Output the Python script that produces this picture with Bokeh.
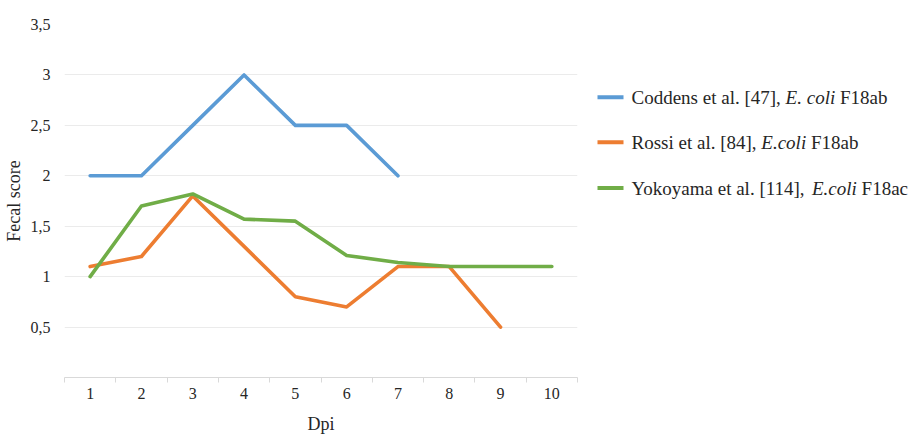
from bokeh.plotting import figure
from bokeh.layouts import row
from bokeh.models import FixedTicker, Range1d
from bokeh.core.properties import value
from bokeh.embed import file_html
from bokeh.resources import INLINE

# ---------------- data ----------------
dpi = [1, 2, 3, 4, 5, 6, 7, 8, 9, 10]
coddens = [2.0, 2.0, 2.5, 3.0, 2.5, 2.5, 2.0]
rossi = [1.1, 1.2, 1.8, 1.3, 0.8, 0.7, 1.1, 1.1, 0.5]
yokoyama = [1.0, 1.7, 1.82, 1.57, 1.55, 1.21, 1.14, 1.1, 1.1, 1.1]
y_ticks = [0.5, 1.0, 1.5, 2.0, 2.5, 3.0, 3.5]
y_tick_labels = ["0,5", "1", "1,5", "2", "2,5", "3", "3,5"]
series_colors = ["#5b9bd5", "#ed7d31", "#70ad47"]
# legend entries: (regular part, italic part, regular part)
legend_entries = [
    ("Coddens et al. [47], ", "E. coli", " F18ab"),
    ("Rossi et al. [84], ", "E.coli", " F18ab"),
    ("Yokoyama et al. [114], ", "E.coli", " F18ac"),
]

FONT = "serif"
TEXT_COLOR = "#262626"
TOP, BOTTOM_Y, H = 24, 378, 436

# ---------------- main chart ----------------
p = figure(width=582, height=H, output_backend="svg", toolbar_location=None,
           x_range=Range1d(0.5, 10.5), y_range=Range1d(0, 3.5),
           min_border_left=60, min_border_right=5, min_border_top=TOP,
           min_border_bottom=H - BOTTOM_Y)
p.outline_line_color = None
p.background_fill_color = "white"
p.border_fill_color = "white"

series = [dpi[:len(coddens)], dpi[:len(rossi)], dpi[:len(yokoyama)]]
values = [coddens, rossi, yokoyama]
for xs, ys, c in zip(series, values, series_colors):
    p.line(xs, ys, line_color=c, line_width=3.6, line_join="round", line_cap="round")

# x axis
p.xaxis.ticker = FixedTicker(ticks=dpi, minor_ticks=[d - 0.5 for d in dpi] + [dpi[-1] + 0.5])
p.xaxis.axis_line_color = "#d9d9d9"
p.xaxis.major_tick_line_color = None
p.xaxis.minor_tick_line_color = "#d9d9d9"
p.xaxis.minor_tick_in = 0
p.xaxis.minor_tick_out = 5
p.xaxis.major_label_text_font = FONT
p.xaxis.major_label_text_font_size = "16px"
p.xaxis.major_label_text_color = TEXT_COLOR
p.xaxis.major_label_standoff = 4
p.xaxis.axis_label = "Dpi"
p.xaxis.axis_label_text_font = FONT
p.xaxis.axis_label_text_font_size = "18px"
p.xaxis.axis_label_text_font_style = "normal"
p.xaxis.axis_label_text_color = TEXT_COLOR
p.xaxis.axis_label_standoff = 12

# y axis
p.yaxis.ticker = FixedTicker(ticks=y_ticks)
p.yaxis.major_label_overrides = {t: l for t, l in zip(y_ticks, y_tick_labels)}
p.yaxis.axis_line_color = None
p.yaxis.major_tick_line_color = None
p.yaxis.minor_tick_line_color = None
p.yaxis.major_label_text_font = FONT
p.yaxis.major_label_text_font_size = "16px"
p.yaxis.major_label_text_color = TEXT_COLOR
p.yaxis.major_label_standoff = 8
p.yaxis.axis_label = "Fecal score"
p.yaxis.axis_label_text_font = FONT
p.yaxis.axis_label_text_font_size = "18px"
p.yaxis.axis_label_text_font_style = "normal"
p.yaxis.axis_label_text_color = TEXT_COLOR
p.yaxis.axis_label_standoff = 4

p.xgrid.grid_line_color = None
p.ygrid.ticker = FixedTicker(ticks=y_ticks)
p.ygrid.grid_line_color = "#ebebeb"
p.ygrid.grid_line_width = 1

# ---------------- legend panel ----------------
X0, LW = 582, 332
lg = figure(width=LW, height=H, output_backend="svg", toolbar_location=None,
            x_range=Range1d(X0, X0 + LW), y_range=Range1d(BOTTOM_Y, TOP),
            min_border_left=0, min_border_right=0,
            min_border_top=TOP, min_border_bottom=H - BOTTOM_Y)
lg.axis.visible = False
lg.grid.visible = False
lg.outline_line_color = None

REG = {' ': 250, 'C': 667, 'o': 500, 'd': 500, 'e': 444, 'n': 500, 's': 389, 't': 278,
       'a': 444, 'l': 278, '.': 250, '[': 333, ']': 333, '4': 500, '7': 500, '8': 500,
       '1': 500, ',': 250, 'F': 556, 'b': 500, 'R': 667, 'i': 278, 'Y': 722, 'k': 500,
       'y': 500, 'm': 778, 'c': 444}
ITA = {'E': 611, '.': 250, ' ': 250, 'c': 444, 'o': 500, 'l': 278, 'i': 278}
FS = 19


def width(s, table):
    return sum(table.get(ch, 500) for ch in s) * FS / 1000.0


row_ys = [97, 142, 188]
line_x0, line_x1, text_x = 597, 623, 631
for i, (a, b, c) in enumerate(legend_entries):
    y = row_ys[i]
    lg.line([line_x0, line_x1], [y, y], line_color=series_colors[i], line_width=4)
    x = text_x
    for part, table, style in ((a, REG, "normal"), (b, ITA, "italic"), (c, REG, "normal")):
        lead = len(part) - len(part.lstrip(" "))
        x += width(" " * lead, table)
        lg.text(x=[x], y=[y], text=[part.strip(" ")], text_font=value(FONT),
                text_font_size=f"{FS}px", text_font_style=style, text_color=TEXT_COLOR,
                text_baseline="middle", text_align="left")
        x += width(part.lstrip(" "), table)

layout = row(p, lg)
open("out.html", "w").write(file_html(layout, INLINE))
